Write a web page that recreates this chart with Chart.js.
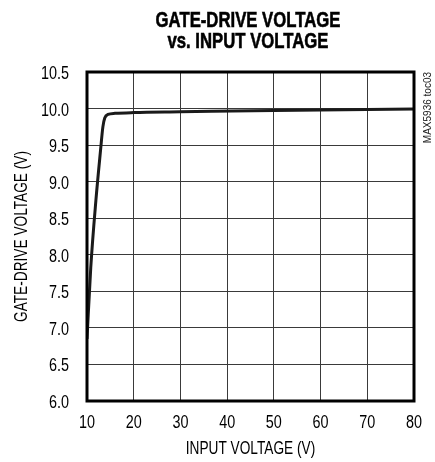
<!DOCTYPE html>
<html>
<head>
<meta charset="utf-8">
<script src="https://cdn.jsdelivr.net/npm/chart.js@4/dist/chart.umd.min.js"></script>
<style>
  body { margin: 0; background: #fff; }
  #wrap { width: 435px; height: 462px; position: relative; }
</style>
</head>
<body>
<div id="wrap"><canvas id="chart"></canvas></div>
<script>
// valores
const inputVoltage = [10, 10.8, 11.9, 12.9, 13.4, 13.8, 14.5, 16, 20, 30, 50, 80];
const gateVoltage  = [6.85, 7.82, 8.74, 9.43, 9.75, 9.87, 9.92, 9.935, 9.945, 9.955, 9.975, 9.995];
const xTicks = [10, 20, 30, 40, 50, 60, 70, 80];
const yTicks = [6.0, 6.5, 7.0, 7.5, 8.0, 8.5, 9.0, 9.5, 10.0, 10.5];
const titleLines = ['GATE-DRIVE VOLTAGE', 'vs. INPUT VOLTAGE'];
const xTitle = 'INPUT VOLTAGE (V)';
const yTitle = 'GATE-DRIVE VOLTAGE (V)';
const sideNote = 'MAX5936 toc03';

const fontFamily = '"Liberation Sans", Arial, sans-serif';

// texto estrecho: no hay fuente "narrow", se comprime en horizontal
function narrowText(ctx, text, x, y, opt) {
    ctx.save();
    ctx.translate(x, y);
    if (opt.rotate) ctx.rotate(opt.rotate);
    ctx.scale(opt.sx, 1);
    ctx.font = (opt.bold ? 'bold ' : '') + opt.size + 'px ' + fontFamily;
    ctx.fillStyle = opt.color || '#000';
    ctx.textAlign = opt.align || 'center';
    ctx.textBaseline = 'middle';
    ctx.fillText(text, 0, 0);
    if (opt.stroke) {
        ctx.lineWidth = opt.stroke;
        ctx.strokeStyle = ctx.fillStyle;
        ctx.strokeText(text, 0, 0);
    }
    ctx.restore();
}

const decorPlugin = {
    id: 'decor',
    afterDraw(chart) {
        const ctx = chart.ctx;
        const a = chart.chartArea;
        const xs = chart.scales.x;
        const ys = chart.scales.y;

        // marco grueso
        ctx.save();
        ctx.strokeStyle = '#000';
        ctx.lineWidth = 3;
        ctx.strokeRect(a.left, a.top, a.right - a.left, a.bottom - a.top);
        ctx.restore();

        // etiquetas de los ejes
        xTicks.forEach(v => {
            narrowText(ctx, String(v), xs.getPixelForValue(v), a.bottom + 22, { size: 18, sx: 0.8 });
        });
        yTicks.forEach(v => {
            narrowText(ctx, v.toFixed(1), 69, ys.getPixelForValue(v) + 2, { size: 18, sx: 0.8, align: 'right' });
        });

        narrowText(ctx, xTitle, (a.left + a.right) / 2, 449, { size: 18, sx: 0.76 });
        narrowText(ctx, yTitle, 22, (a.top + a.bottom) / 2, { size: 18, sx: 0.76, rotate: -Math.PI / 2 });

        // titulo
        narrowText(ctx, titleLines[0], 248, 21, { size: 22, sx: 0.76, bold: true, stroke: 0.6 });
        narrowText(ctx, titleLines[1], 248, 41.5, { size: 22, sx: 0.76, bold: true, stroke: 0.6 });

        // nota lateral
        narrowText(ctx, sideNote, 428, a.top, { size: 10, sx: 1, rotate: -Math.PI / 2, align: 'right', color: '#222' });
    }
};

const ctx = document.getElementById('chart').getContext('2d');
const chart = new Chart(ctx, {
    type: 'line',
    data: {
        datasets: [{
            data: inputVoltage.map((x, i) => ({ x: x, y: gateVoltage[i] })),
            borderColor: '#1a1a1a',
            borderWidth: 3,
            pointRadius: 0,
            cubicInterpolationMode: 'monotone',
            fill: false
        }]
    },
    options: {
        responsive: true,
        maintainAspectRatio: false,
        animation: false,
        layout: { padding: { top: 72, right: 21, left: 0, bottom: 0 } },
        plugins: { legend: { display: false }, tooltip: { enabled: false } },
        scales: {
            x: {
                type: 'linear',
                min: 10,
                max: 80,
                afterFit: (s) => { s.height = 61; },
                ticks: { stepSize: 10, display: false },
                grid: { color: '#3a3a3a', lineWidth: 1, drawTicks: false },
                border: { display: false }
            },
            y: {
                min: 6,
                max: 10.5,
                afterFit: (s) => { s.width = 87; },
                ticks: { stepSize: 0.5, display: false },
                grid: { color: '#3a3a3a', lineWidth: 1, drawTicks: false },
                border: { display: false }
            }
        }
    },
    plugins: [decorPlugin]
});
</script>
</body>
</html>
